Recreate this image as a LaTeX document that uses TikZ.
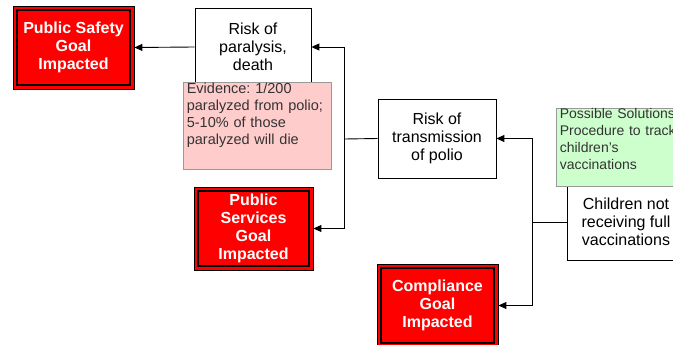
\documentclass[tikz,border=0pt]{standalone}
\usepackage{fontspec}
\setmainfont{Liberation Sans}
\usetikzlibrary{arrows.meta,calc}
\definecolor{pinkfill}{HTML}{FFCCCC}
\definecolor{greenfill}{HTML}{CCFFCC}
\definecolor{softtext}{HTML}{333333}
\frenchspacing
\begin{document}
\begin{tikzpicture}[x=1pt,y=-1pt,
  riskbox/.style={draw=black, line width=0.8pt, fill=white, inner sep=0pt, align=center,
    font=\fontsize{16}{18}\selectfont},
  goalbox/.style={draw=black, line width=0.8pt, fill=red,
    path picture={\draw[black, line width=1.3pt]
      ([shift={(4pt,-4pt)}]path picture bounding box.north west) rectangle
      ([shift={(-4pt,4pt)}]path picture bounding box.south east);},
    inner sep=0pt, align=center, text=white, font=\fontsize{16}{18}\selectfont\bfseries},
  notebox/.style={line width=0.8pt, draw=black!40, inner sep=0pt},
  notetext/.style={anchor=north west, inner sep=0pt, align=left, text=softtext},
  conn/.style={draw=black, line width=0.9pt, -{Triangle[length=8pt,width=7pt]}},
  plainconn/.style={draw=black, line width=0.9pt}
]
\useasboundingbox (0,0) rectangle (673,345);
\clip (0,0) rectangle (673,345);

% goals
\node[goalbox, minimum width=121pt, minimum height=83pt] (ps) at (73.5,47.5) {Public Safety\\Goal\\Impacted};
\node[goalbox, minimum width=119pt, minimum height=83pt] (psv) at (253.5,228.5) {Public\\Services\\Goal\\Impacted};
\node[goalbox, minimum width=121pt, minimum height=83pt] (co) at (437.5,305.5) {Compliance\\Goal\\Impacted};

% risks
\node[riskbox, minimum width=116pt, minimum height=78pt] (rp) at (253,47) {Risk of\\paralysis,\\death};
\node[notebox, fill=pinkfill, minimum width=148pt, minimum height=87pt] (evbox) at (257,125.5) {};
\node[notetext, text width=144pt, font=\fontsize{14.5}{17}\selectfont] (evt)
  at ($(evbox.north west)+(4,1.5)$) {Evidence: 1/200\\paralyzed from polio;\\5-10\% of those\\paralyzed will die};

\node[riskbox, minimum width=118pt, minimum height=79pt] (tr) at (437,138.5) {Risk of\\transmission\\of polio};

\node[riskbox, minimum width=118pt, minimum height=76pt] (ch) at (626,222) {Children not\\receiving full\\vaccinations};
\node[notebox, fill=greenfill, minimum width=134pt, minimum height=78pt] (solbox) at (623,147) {};
\node[notetext, text width=130pt, font=\fontsize{14}{16.7}\selectfont] (solt)
  at ($(solbox.north west)+(4,1)$) {Possible Solutions:\\Procedure to track\\children's\\vaccinations};

% connectors
\coordinate (j1) at (344.5,139);
\coordinate (j2) at (532,222);
\draw[conn] (rp.west) -- (ps.east);
\draw[plainconn] (tr.west) -- (j1);
\draw[conn] (j1) |- (rp.east);
\draw[conn] (j1) |- (psv.east);
\draw[plainconn] (ch.west) -- (j2);
\draw[conn] (j2) |- (tr.east);
\draw[conn] (j2) |- (co.east);
\end{tikzpicture}
\end{document}
